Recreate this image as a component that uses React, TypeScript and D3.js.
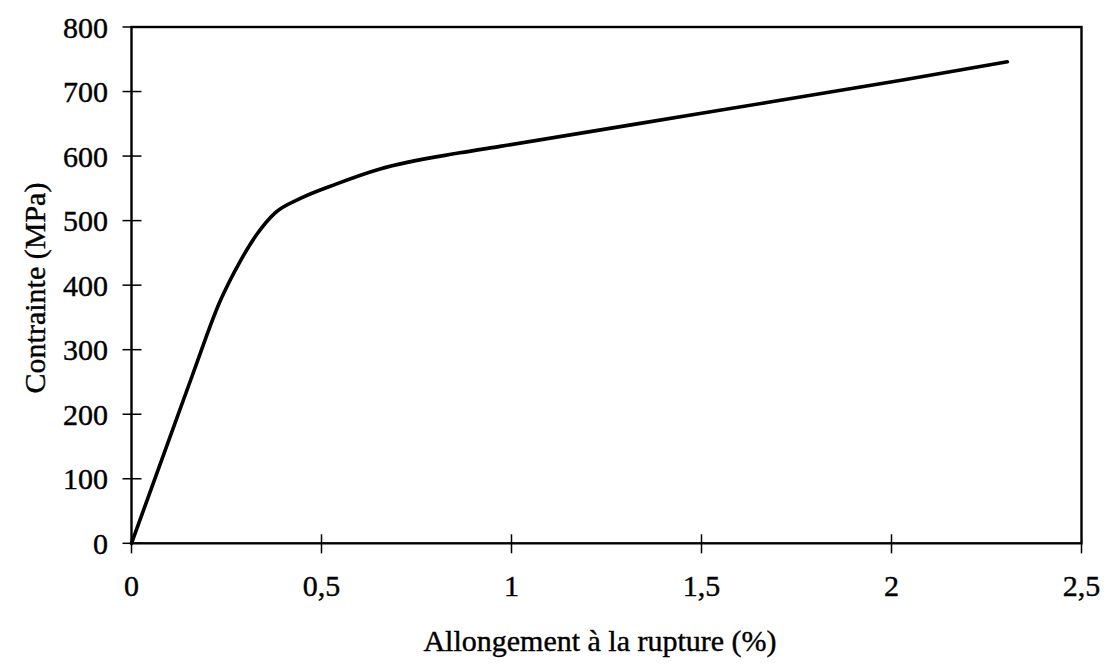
import React from "react";
import * as d3 from "d3";

const strain: number[] = [0, 0.08, 0.16, 0.233, 0.286, 0.329, 0.378, 0.443, 0.54, 0.654, 0.864, 0.97, 1.496, 2.022, 2.305];
const stress: number[] = [0, 130, 260, 375, 437, 478, 512, 534, 557, 580, 605, 615, 666, 717, 746];
const xTicks: number[] = [0, 0.5, 1, 1.5, 2, 2.5];
const yTicks: number[] = [0, 100, 200, 300, 400, 500, 600, 700, 800];
const xTitle = "Allongement à la rupture (%)";
const yTitle = "Contrainte (MPa)";

const W = 1107;
const H = 666;
const M = { left: 131.5, right: W - 1081.5, top: 27, bottom: H - 543.3 };
const FONT = "'Liberation Serif', 'DejaVu Serif', serif";

const fmt = (v: number) => String(v).replace(".", ",");

export default function App() {
  const x = d3.scaleLinear().domain([0, 2.5]).range([M.left, W - M.right]);
  const y = d3.scaleLinear().domain([0, 800]).range([H - M.bottom, M.top]);
  const pts: [number, number][] = strain.map((s, i) => [s, stress[i]]);
  const line = d3
    .line<[number, number]>()
    .x((d) => x(d[0]))
    .y((d) => y(d[1]))
    .curve(d3.curveMonotoneX);

  const x0 = x(0);
  const x1 = x(2.5);
  const y0 = y(0);
  const y1 = y(800);

  return (
    <svg
      width={W}
      height={H}
      style={{ position: "absolute", left: 0, top: 0, background: "#fff" }}
    >
      <rect x={0} y={0} width={W} height={H} fill="#fff" />
      {/* frame */}
      <rect x={x0} y={y1} width={x1 - x0} height={y0 - y1} fill="none" stroke="#000" strokeWidth={2.4} />
      {/* y ticks */}
      {yTicks.map((t) => (
        <g key={"y" + t}>
          <line x1={x0 - 9} x2={t === 800 ? x0 : x0 + 10} y1={y(t)} y2={y(t)} stroke="#000" strokeWidth={1.5} />
          <text
            x={108}
            y={y(t)}
            textAnchor="end"
            dominantBaseline="central"
            fontFamily={FONT}
            fontSize={30}
            fill="#000"
            stroke="#000"
            strokeWidth={0.4}
          >
            {fmt(t)}
          </text>
        </g>
      ))}
      {/* x ticks */}
      {xTicks.map((t) => (
        <g key={"x" + t}>
          <line x1={x(t)} x2={x(t)} y1={y0 - (t === 0 || t === 2.5 ? 0 : 9)} y2={y0 + 10} stroke="#000" strokeWidth={1.5} />
          <text
            x={x(t)}
            y={585}
            textAnchor="middle"
            dominantBaseline="central"
            fontFamily={FONT}
            fontSize={30}
            fill="#000"
            stroke="#000"
            strokeWidth={0.4}
          >
            {fmt(t)}
          </text>
        </g>
      ))}
      {/* curve */}
      <path d={line(pts) || ""} fill="none" stroke="#000" strokeWidth={3.6} strokeLinejoin="round" strokeLinecap="round" />
      {/* titles */}
      <text
        x={600}
        y={640}
        textAnchor="middle"
        dominantBaseline="central"
        fontFamily={FONT}
        fontSize={30}
        fill="#000"
        stroke="#000"
        strokeWidth={0.4}
      >
        {xTitle}
      </text>
      <text
        transform={`translate(34,288) rotate(-90)`}
        textAnchor="middle"
        dominantBaseline="central"
        fontFamily={FONT}
        fontSize={30}
        fill="#000"
        stroke="#000"
        strokeWidth={0.4}
      >
        {yTitle}
      </text>
    </svg>
  );
}
